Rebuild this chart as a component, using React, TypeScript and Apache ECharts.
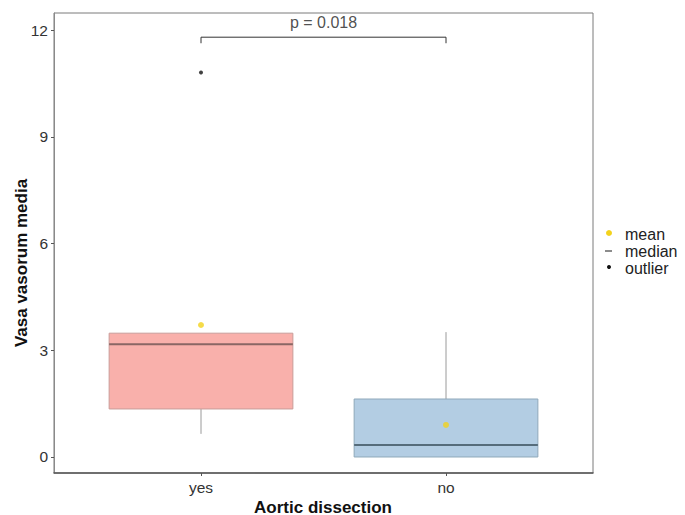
import React, { useEffect, useRef } from "react";
import * as echarts from "echarts";

// ---- data ----
const categories = ["yes", "no"];
// [min(lower whisker), Q1, median, Q3, max(upper whisker)]
const boxStats = [
  [0.65, 1.35, 3.17, 3.48, 3.48],
  [0, 0, 0.34, 1.63, 3.51],
];
const means = [3.71, 0.9];
const outliers = [[1, 10.81]];
const yTicks = [0, 3, 6, 9, 12];
const pValueLabel = "p = 0.018";
const bracketY = 11.8;
const bracketTickY = 11.63;
const pLabelY = 12.2;
const legendItems = ["mean", "median", "outlier"];

const fills = ["#F9B0AB", "#B3CDE3"];
const borders = ["#C99C99", "#8FA8BA"];
const medianColors = ["#8A6664", "#566C7B"];

export default function App() {
  const ref = useRef<HTMLDivElement>(null);
  useEffect(() => {
    if (!ref.current) return;
    const chart = echarts.init(ref.current, null, { renderer: "svg" });
    const boxData = boxStats.map((s, i) => [i + 1, ...s, i]);
    const font = "Liberation Sans, Arial, sans-serif";
    chart.setOption({
      animation: false,
      backgroundColor: "#ffffff",
      grid: {
        left: 54,
        top: 13,
        width: 539,
        height: 460,
        show: true,
        borderColor: "#7a7a7a",
        borderWidth: 1,
        backgroundColor: "transparent",
      },
      xAxis: {
        type: "value",
        min: 0.4,
        max: 2.6,
        splitLine: { show: false },
        axisLine: { show: true, onZero: false, lineStyle: { color: "#555", width: 1.5 } },
        axisTick: { show: true, customValues: [1, 2], length: 3, lineStyle: { color: "#555" } },
        axisLabel: {
          customValues: [1, 2],
          formatter: (v: number) => categories[Math.round(v) - 1] ?? "",
          fontSize: 15.5,
          color: "#333",
          fontFamily: font,
          margin: 6,
        },
      },
      yAxis: {
        type: "value",
        min: -0.45,
        max: 12.48,
        splitLine: { show: false },
        axisLine: { show: true, lineStyle: { color: "#8a8a8a", width: 1 } },
        axisTick: { show: true, customValues: yTicks, length: 3, lineStyle: { color: "#555" } },
        axisLabel: {
          customValues: yTicks,
          fontSize: 15.5,
          color: "#333",
          fontFamily: font,
          margin: 6,
        },
      },
      series: [
        {
          type: "custom",
          data: boxData,
          encode: { x: 0, y: [1, 2, 3, 4, 5] },
          renderItem: (params: any, api: any) => {
            const x = api.value(0);
            const lo = api.value(1);
            const q1 = api.value(2);
            const med = api.value(3);
            const q3 = api.value(4);
            const hi = api.value(5);
            const idx = api.value(6);
            const half = 0.375;
            const tl = api.coord([x - half, q3]);
            const br = api.coord([x + half, q1]);
            const pLo = api.coord([x, lo]);
            const pQ1 = api.coord([x, q1]);
            const pQ3 = api.coord([x, q3]);
            const pHi = api.coord([x, hi]);
            const mL = api.coord([x - half, med]);
            const mR = api.coord([x + half, med]);
            const children: any[] = [
              {
                type: "line",
                shape: { x1: pLo[0], y1: pLo[1], x2: pQ1[0], y2: pQ1[1] },
                style: { stroke: "#9a9a9a", lineWidth: 1 },
              },
              {
                type: "line",
                shape: { x1: pQ3[0], y1: pQ3[1], x2: pHi[0], y2: pHi[1] },
                style: { stroke: "#9a9a9a", lineWidth: 1 },
              },
              {
                type: "rect",
                shape: { x: tl[0], y: tl[1], width: br[0] - tl[0], height: br[1] - tl[1] },
                style: { fill: fills[idx], stroke: borders[idx], lineWidth: 1 },
              },
              {
                type: "line",
                shape: { x1: mL[0], y1: mL[1], x2: mR[0], y2: mR[1] },
                style: { stroke: medianColors[idx], lineWidth: 2 },
              },
            ];
            return { type: "group", children };
          },
          z: 2,
        },
        {
          type: "scatter",
          name: "mean",
          data: means.map((m, i) => [i + 1, m]),
          symbol: "circle",
          symbolSize: 6,
          itemStyle: { color: "#F3D21C" },
          z: 5,
        },
        {
          type: "scatter",
          name: "outlier",
          data: outliers,
          symbol: "circle",
          symbolSize: 4,
          itemStyle: { color: "#111" },
          z: 5,
        },
        {
          type: "line",
          data: [
            [1, bracketTickY],
            [1, bracketY],
            [2, bracketY],
            [2, bracketTickY],
          ],
          symbol: "none",
          lineStyle: { color: "#333", width: 1 },
          z: 5,
        },
        {
          type: "scatter",
          data: [[1.5, pLabelY]],
          symbolSize: 0,
          label: {
            show: true,
            position: "inside",
            formatter: pValueLabel,
            fontSize: 16,
            color: "#222",
            fontFamily: font,
          },
          z: 5,
        },
      ],
      graphic: [
        {
          type: "text",
          x: 21,
          y: 263,
          rotation: Math.PI / 2,
          style: {
            text: "Vasa vasorum media",
            fontSize: 17,
            fontWeight: "bold",
            fill: "#111",
            fontFamily: font,
            align: "center",
            verticalAlign: "middle",
          },
        },
        {
          type: "text",
          x: 323,
          y: 507,
          style: {
            text: "Aortic dissection",
            fontSize: 17,
            fontWeight: "bold",
            fill: "#111",
            fontFamily: font,
            align: "center",
            verticalAlign: "middle",
          },
        },
        { type: "circle", shape: { cx: 609, cy: 233, r: 3 }, style: { fill: "#F3D21C" } },
        { type: "line", shape: { x1: 605, y1: 251, x2: 612, y2: 251 }, style: { stroke: "#666", lineWidth: 1.5 } },
        { type: "circle", shape: { cx: 609, cy: 267, r: 2 }, style: { fill: "#111" } },
        ...legendItems.map((t, i) => ({
          type: "text",
          x: 625,
          y: 234 + i * 17,
          style: {
            text: t,
            fontSize: 16,
            fill: "#222",
            fontFamily: font,
            align: "left",
            verticalAlign: "middle",
          },
        })),
      ],
    });
    return () => chart.dispose();
  }, []);
  return (
    <div
      ref={ref}
      style={{ position: "fixed", left: 0, top: 0, width: 685, height: 515 }}
    />
  );
}
